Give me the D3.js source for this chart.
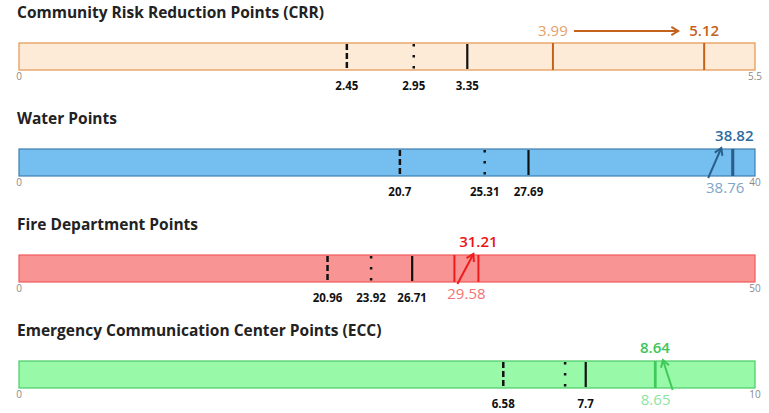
<!DOCTYPE html>
<html>
<head>
<meta charset="utf-8">
<script src="https://d3js.org/d3.v7.min.js"></script>
<style>
  body { margin: 0; background: #fff; font-family: "Open Sans", "Noto Sans", sans-serif; }
  .title { font-weight: bold; font-size: 15.5px; fill: #222; }
  .tick-end { font-size: 10px; fill: #8a8a8a; }
  .ref-label { font-weight: bold; font-size: 11.5px; fill: #111; }
</style>
</head>
<body>
<svg id="chart" width="769" height="413"></svg>
<script>
// chart values
var titles = ["Community Risk Reduction Points (CRR)", "Water Points", "Fire Department Points", "Emergency Communication Center Points (ECC)"];
var maxValues = [5.5, 40, 50, 10];
var dashedValues = [2.45, 20.7, 20.96, 6.58];
var dottedValues = [2.95, 25.31, 23.92, 7.42];
var solidValues = [3.35, 27.69, 26.71, 7.7];
var dottedLabels = ["2.95", "25.31", "23.92", ""];
var previousScores = [3.99, 38.76, 29.58, 8.65];
var currentScores = [5.12, 38.82, 31.21, 8.64];

// styling per panel
var fills = ["#fdebd8", "#74bff0", "#f99494", "#98f9a8"];
var borders = ["#e39550", "#3f7fb0", "#f25a5a", "#48cc66"];
var lineColors = ["#c4621c", "#2a5f8c", "#ee1c1c", "#3fc95a"];
var newColors = ["#c4621c", "#2e6ba0", "#ea1414", "#3cc658"];
var oldColors = ["#e5a069", "#7ea6c8", "#f47272", "#8fe39e"];

// label placement: "row" = both labels above, arrow between them
var labelModes = ["row", "cross", "cross", "cross"];
var oldLabelDx = [0, -7, 12, 0];
var newLabelDx = [0, 1, 0, 0];
var arrowStartDx = [0, -24, 3, 17];
var arrowEndDx = [0, -12, -5, 8];

var svg = d3.select("#chart");
var left = 19, right = 755, barH = 27, top0 = 43, step = 106;
var x = d3.scaleLinear().range([left, right]);

titles.forEach(function(t, i) {
  var y0 = top0 + i * step;
  x.domain([0, maxValues[i]]);
  var g = svg.append("g");

  g.append("text").attr("class", "title").attr("x", 17).attr("y", y0 - 25).text(t);

  g.append("rect")
    .attr("x", x(0)).attr("y", y0)
    .attr("width", x(maxValues[i]) - x(0)).attr("height", barH)
    .attr("fill", fills[i]).attr("stroke", borders[i]).attr("stroke-width", 1.2);

  g.append("text").attr("class", "tick-end").attr("x", x(0)).attr("y", y0 + barH + 10)
    .attr("text-anchor", "middle").text(0);
  g.append("text").attr("class", "tick-end").attr("x", x(maxValues[i])).attr("y", y0 + barH + 10)
    .attr("text-anchor", "middle").text(maxValues[i]);

  var refs = [
    {v: dashedValues[i], dash: "6,3", w: 2.5, label: String(dashedValues[i])},
    {v: dottedValues[i], dash: "2.5,8.5", w: 2.5, label: dottedLabels[i]},
    {v: solidValues[i], dash: null, w: 2.2, label: String(solidValues[i])}
  ];
  refs.forEach(function(r) {
    g.append("line")
      .attr("x1", x(r.v)).attr("x2", x(r.v))
      .attr("y1", y0 + 1).attr("y2", y0 + barH - 1)
      .attr("stroke", "#111").attr("stroke-width", r.w)
      .attr("stroke-dasharray", r.dash);
    if (r.label) {
      g.append("text").attr("class", "ref-label")
        .attr("x", x(r.v)).attr("y", y0 + barH + 20)
        .attr("text-anchor", "middle").text(r.label);
    }
  });

  [previousScores[i], currentScores[i]].forEach(function(v) {
    g.append("line")
      .attr("x1", x(v)).attr("x2", x(v))
      .attr("y1", y0).attr("y2", y0 + barH)
      .attr("stroke", lineColors[i]).attr("stroke-width", 2);
  });

  var xo = x(previousScores[i]), xn = x(currentScores[i]);
  var arrowStart, arrowEnd, oldY, newY;
  if (labelModes[i] == "row") {
    oldY = y0 - 7; newY = y0 - 7;
    arrowStart = [xo + 21, y0 - 12];
    arrowEnd = [xn - 26, y0 - 12];
  } else {
    oldY = y0 + barH + 17; newY = y0 - 8;
    arrowStart = [xo + arrowStartDx[i], y0 + barH + 2];
    arrowEnd = [xn + arrowEndDx[i], y0 - 1];
  }

  g.append("text").attr("x", xo + oldLabelDx[i]).attr("y", oldY)
    .attr("text-anchor", "middle").style("font-size", "15px").attr("fill", oldColors[i])
    .text(previousScores[i]);
  g.append("text").attr("x", xn + newLabelDx[i]).attr("y", newY)
    .attr("text-anchor", "middle").style("font-size", "15px").style("font-weight", "600")
    .attr("fill", newColors[i]).text(currentScores[i]);

  // arrow with open head
  var dx = arrowEnd[0] - arrowStart[0], dy = arrowEnd[1] - arrowStart[1];
  var a = Math.atan2(dy, dx), hl = 8, ha = 0.55;
  g.append("line")
    .attr("x1", arrowStart[0]).attr("y1", arrowStart[1])
    .attr("x2", arrowEnd[0]).attr("y2", arrowEnd[1])
    .attr("stroke", lineColors[i]).attr("stroke-width", 2);
  g.append("path")
    .attr("d", "M" + (arrowEnd[0] - hl * Math.cos(a - ha)) + "," + (arrowEnd[1] - hl * Math.sin(a - ha)) +
      "L" + arrowEnd[0] + "," + arrowEnd[1] +
      "L" + (arrowEnd[0] - hl * Math.cos(a + ha)) + "," + (arrowEnd[1] - hl * Math.sin(a + ha)))
    .attr("fill", "none").attr("stroke", lineColors[i]).attr("stroke-width", 2);
});
</script>
</body>
</html>
